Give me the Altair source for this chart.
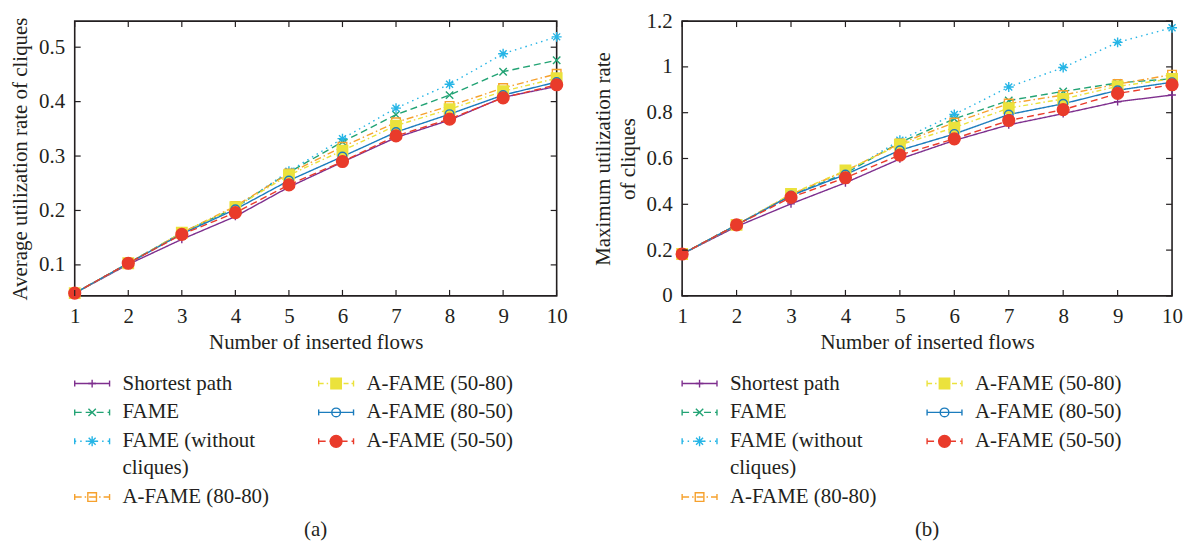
import altair as alt
import pandas as pd

# ---------------- data ----------------
flows = [1, 2, 3, 4, 5, 6, 7, 8, 9, 10]
series_names = ["Shortest path", "FAME", "FAME (without cliques)", "A-FAME (80-80)",
                "A-FAME (50-80)", "A-FAME (80-50)", "A-FAME (50-50)"]
legend_labels = [["Shortest path"], ["FAME"], ["FAME (without", "cliques)"], ["A-FAME (80-80)"],
                 ["A-FAME (50-80)"], ["A-FAME (80-50)"], ["A-FAME (50-50)"]]
legend_column = [0, 0, 0, 0, 1, 1, 1]

avg_shortest = [0.048, 0.101, 0.147, 0.189, 0.243, 0.289, 0.334, 0.366, 0.408, 0.428]
avg_fame = [0.048, 0.103, 0.159, 0.205, 0.270, 0.326, 0.376, 0.412, 0.455, 0.476]
avg_fame_nc = [0.048, 0.103, 0.159, 0.205, 0.272, 0.332, 0.388, 0.432, 0.488, 0.519]
avg_a8080 = [0.048, 0.103, 0.159, 0.208, 0.268, 0.317, 0.362, 0.392, 0.425, 0.451]
avg_a5080 = [0.048, 0.103, 0.159, 0.206, 0.265, 0.310, 0.356, 0.386, 0.419, 0.443]
avg_a8050 = [0.048, 0.103, 0.157, 0.202, 0.255, 0.299, 0.344, 0.377, 0.412, 0.436]
avg_a5050 = [0.048, 0.103, 0.156, 0.196, 0.247, 0.290, 0.337, 0.368, 0.407, 0.431]

max_shortest = [0.183, 0.303, 0.402, 0.494, 0.598, 0.679, 0.747, 0.796, 0.848, 0.877]
max_fame = [0.183, 0.310, 0.440, 0.535, 0.670, 0.773, 0.853, 0.893, 0.930, 0.948]
max_fame_nc = [0.183, 0.310, 0.440, 0.535, 0.680, 0.792, 0.912, 0.997, 1.107, 1.171]
max_a8080 = [0.183, 0.310, 0.443, 0.545, 0.665, 0.757, 0.840, 0.877, 0.925, 0.966]
max_a5080 = [0.183, 0.310, 0.445, 0.548, 0.660, 0.735, 0.820, 0.860, 0.915, 0.948]
max_a8050 = [0.183, 0.310, 0.438, 0.530, 0.636, 0.707, 0.792, 0.839, 0.898, 0.933]
max_a5050 = [0.183, 0.310, 0.430, 0.516, 0.615, 0.686, 0.766, 0.813, 0.884, 0.922]

avg_ticks = [0.1, 0.2, 0.3, 0.4, 0.5]
max_ticks = [0, 0.2, 0.4, 0.6, 0.8, 1.0, 1.2]

avg_series = [avg_shortest, avg_fame, avg_fame_nc, avg_a8080, avg_a5080, avg_a8050, avg_a5050]
max_series = [max_shortest, max_fame, max_fame_nc, max_a8080, max_a5080, max_a8050, max_a5050]

# ---------------- styles ----------------
FONT = "Liberation Serif, Times New Roman, DejaVu Serif, serif"
INK = "#231F20"
FS = 21
LW = 1.4
colors = ["#7E2F8E", "#22A374", "#26B5E6", "#F6A12D", "#EBE23C", "#1B7CBD", "#E93B2B"]
dashes = [[1, 0], [7, 4], [1.5, 4], [7, 3, 1.5, 3], [5, 3, 1.5, 3], [1, 0], [7, 4]]
PLUS = "M-1,0L1,0M0,-1L0,1"
XMARK = "M-1,-1L1,1M-1,1L1,-1"
STAR = "M-1,0L1,0M0,-1L0,1M-0.7,-0.7L0.7,0.7M-0.7,0.7L0.7,-0.7"
shapes = [PLUS, XMARK, STAR, "square", "square", "circle", "circle"]
fills = ["transparent", "transparent", "transparent", "transparent", colors[4], "transparent", colors[6]]
sizes = [60, 55, 100, 75, 110, 75, 140]
CAP = "M0,-1L0,1"


def long_table(series_values):
    rows = []
    for i, (name, vals) in enumerate(zip(series_names, series_values)):
        for f, v in zip(flows, vals):
            rows.append({"series": name, "idx": i, "flows": f, "value": v,
                         "color": colors[i], "fill": fills[i], "shape": shapes[i], "size": sizes[i]})
    return pd.DataFrame(rows)


def legend_tables():
    items, texts = [], []
    slot = {0: 0.0, 1: 0.0}
    for i, name in enumerate(series_names):
        c = legend_column[i]
        s = slot[c]
        items.append({"series": name, "col": c, "slot": s, "color": colors[i], "fill": fills[i],
                      "shape": shapes[i], "size": sizes[i]})
        for k, line in enumerate(legend_labels[i]):
            texts.append({"col": c, "slot": s + 0.93 * k, "text": line})
        slot[c] = s + 1 + 0.93 * (len(legend_labels[i]) - 1)
    return pd.DataFrame(items), pd.DataFrame(texts)


def panel(series_values, ticks, ydomain, ytitle, yfmt, W, H, caption, col_gap):
    df = long_table(series_values)
    xs = alt.Scale(domain=[1, 10], nice=False, zero=False)
    ys = alt.Scale(domain=ydomain, nice=False, zero=False)
    color_s = alt.Scale(domain=series_names, range=colors)
    dash_s = alt.Scale(domain=series_names, range=dashes)
    xaxis = alt.Axis(values=flows, format="d", ticks=False, domain=False, grid=False,
                     labelFlush=False, labelPadding=10, titlePadding=5,
                     title="Number of inserted flows")
    yaxis = alt.Axis(values=ticks, format=yfmt, ticks=False, domain=False, grid=False,
                     labelFlush=False, labelPadding=10, titlePadding=8, title=ytitle,
                     titleLineHeight=25)
    base = alt.Chart(df)
    lines = base.mark_line(strokeWidth=LW).encode(
        x=alt.X("flows:Q", scale=xs, axis=xaxis),
        y=alt.Y("value:Q", scale=ys, axis=yaxis),
        color=alt.Color("series:N", scale=color_s, legend=None),
        strokeDash=alt.StrokeDash("series:N", scale=dash_s, legend=None),
        order=alt.Order("flows:Q"),
    )
    points = base.mark_point(strokeWidth=LW, opacity=1).encode(
        x=alt.X("flows:Q", scale=xs, axis=xaxis),
        y=alt.Y("value:Q", scale=ys, axis=yaxis),
        shape=alt.Shape("shape:N", scale=None),
        stroke=alt.Stroke("color:N", scale=None),
        fill=alt.Fill("fill:N", scale=None),
        size=alt.Size("size:Q", scale=None),
        order=alt.Order("idx:Q"),
    )
    xt = alt.Chart(pd.DataFrame({"t": flows}))
    yt = alt.Chart(pd.DataFrame({"t": ticks}))
    tl = 6
    tick_layers = [
        xt.mark_rule(color=INK, strokeWidth=1.2).encode(x=alt.X("t:Q", scale=xs, axis=xaxis),
                                                         y=alt.value(H), y2=alt.value(H - tl)),
        xt.mark_rule(color=INK, strokeWidth=1.2).encode(x=alt.X("t:Q", scale=xs, axis=xaxis),
                                                         y=alt.value(0), y2=alt.value(tl)),
        yt.mark_rule(color=INK, strokeWidth=1.2).encode(y=alt.Y("t:Q", scale=ys, axis=yaxis),
                                                         x=alt.value(0), x2=alt.value(tl)),
        yt.mark_rule(color=INK, strokeWidth=1.2).encode(y=alt.Y("t:Q", scale=ys, axis=yaxis),
                                                         x=alt.value(W), x2=alt.value(W - tl)),
    ]
    main = alt.layer(lines, points, *tick_layers)

    items, texts = legend_tables()
    lx = alt.Scale(domain=[0, 1], range=[0, col_gap])
    ly = alt.Scale(domain=[0, 4], range=[364, 480], nice=False, zero=False)
    li = alt.Chart(items)
    seg = 35
    leg_line = li.mark_rule(strokeWidth=LW, x2Offset=seg).encode(
        x=alt.X("col:Q", scale=lx, axis=None), x2="col:Q",
        y=alt.Y("slot:Q", scale=ly, axis=None),
        color=alt.Color("series:N", scale=color_s, legend=None),
        strokeDash=alt.StrokeDash("series:N", scale=dash_s, legend=None),
    )
    cap_l = li.mark_point(shape=CAP, size=36, filled=False, opacity=1, strokeWidth=LW).encode(
        x=alt.X("col:Q", scale=lx, axis=None), y=alt.Y("slot:Q", scale=ly, axis=None),
        stroke=alt.Stroke("color:N", scale=None))
    cap_r = li.mark_point(shape=CAP, size=36, filled=False, opacity=1, strokeWidth=LW, xOffset=seg).encode(
        x=alt.X("col:Q", scale=lx, axis=None), y=alt.Y("slot:Q", scale=ly, axis=None),
        stroke=alt.Stroke("color:N", scale=None))
    sym = li.mark_point(strokeWidth=LW, opacity=1, xOffset=seg / 2).encode(
        x=alt.X("col:Q", scale=lx, axis=None), y=alt.Y("slot:Q", scale=ly, axis=None),
        shape=alt.Shape("shape:N", scale=None),
        stroke=alt.Stroke("color:N", scale=None),
        fill=alt.Fill("fill:N", scale=None),
        size=alt.Size("size:Q", scale=None),
    )
    txt = alt.Chart(texts).mark_text(align="left", baseline="middle", dx=48, font=FONT,
                                     fontSize=FS, color=INK).encode(
        x=alt.X("col:Q", scale=lx, axis=None), y=alt.Y("slot:Q", scale=ly, axis=None),
        text="text:N")
    legend = alt.layer(leg_line, cap_l, cap_r, sym, txt)

    return alt.layer(main, legend).resolve_scale(
        x="independent", y="independent", color="independent", strokeDash="independent"
    ).properties(
        width=W, height=H,
        title=alt.TitleParams(caption, orient="bottom", anchor="middle", offset=12,
                              fontSize=FS, font=FONT, fontWeight="normal", color=INK),
    )


left = panel(avg_series, avg_ticks, [0.043, 0.548], "Average utilization rate of cliques",
             ".1f", 484, 276, "(a)", 245)
right = panel(max_series, max_ticks, [0, 1.2], ["Maximum utilization rate", "of cliques"],
              ".1~f", 492, 276, "(b)", 246)

chart = alt.hconcat(left, right, spacing=22).properties(
    padding={"left": 0, "top": 0, "right": 0, "bottom": 0}
).configure(font=FONT).configure_view(stroke=INK, strokeWidth=1.6).configure_axis(
    labelFont=FONT, titleFont=FONT, labelFontSize=FS, titleFontSize=FS,
    labelColor=INK, titleColor=INK, titleFontWeight="normal"
)

chart.save("out.html", embed_options={"renderer": "svg", "actions": False})
